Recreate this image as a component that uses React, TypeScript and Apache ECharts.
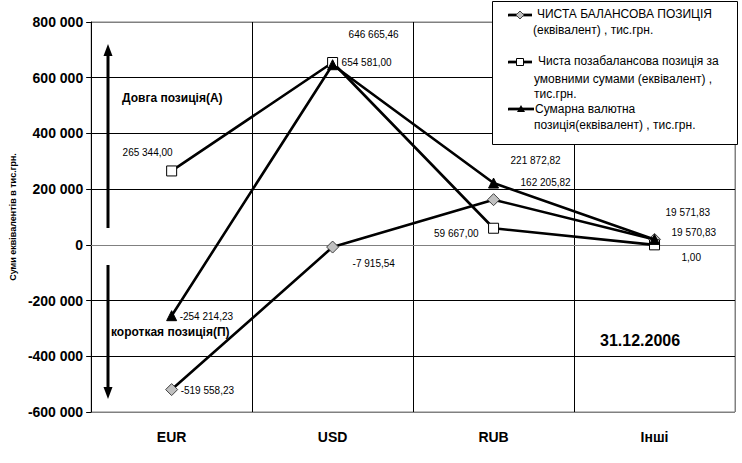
import React, { useEffect, useRef } from "react";
import * as echarts from "echarts";

const categories = ["EUR", "USD", "RUB", "Інші"];
const balanceValues = [-519558.23, -7915.54, 162205.82, 19570.83];
const offBalanceValues = [265344.0, 654581.0, 59667.0, 1.0];
const totalValues = [-254214.23, 646665.46, 221872.82, 19571.83];
const yTicks = { min: -600000, max: 800000, interval: 200000 };

const balanceLabelOffsets: [number, number, string][] = [
  [9, 1, "left"],
  [20, 16, "left"],
  [27, -17, "left"],
  [17, -7, "left"],
];
const offBalanceLabelOffsets: [number, number, string][] = [
  [1, -18, "right"],
  [9, 0, "left"],
  [-15, 5, "right"],
  [27, 13, "left"],
];
const totalLabelOffsets: [number, number, string][] = [
  [8, 1, "left"],
  [16, -30, "left"],
  [17, -23, "left"],
  [11, -27, "left"],
];

const FONT = '"Liberation Sans", Arial, sans-serif';

function fmtNum(v: number): string {
  const neg = v < 0;
  const abs = Math.abs(v);
  const fixed = abs.toFixed(2);
  const [ip, dp] = fixed.split(".");
  const withSp = ip.replace(/\B(?=(\d{3})+(?!\d))/g, " ");
  return (neg ? "-" : "") + withSp + "," + dp;
}

function fmtTick(v: number): string {
  const neg = v < 0;
  const s = Math.abs(v)
    .toFixed(0)
    .replace(/\B(?=(\d{3})+(?!\d))/g, " ");
  return (neg ? "-" : "") + s;
}

function buildData(values: number[], offsets: [number, number, string][]) {
  return values.map((v, i) => ({
    value: v,
    label: {
      show: true,
      position: "inside",
      offset: [offsets[i][0], offsets[i][1]],
      align: offsets[i][2],
      verticalAlign: "middle",
      formatter: () => fmtNum(v),
      color: "#000",
      fontSize: 10,
      fontFamily: FONT,
    },
  }));
}

export default function App() {
  const ref = useRef<HTMLDivElement>(null);
  useEffect(() => {
    if (!ref.current) return;
    const chart = echarts.init(ref.current, null, { renderer: "svg" });
    const lineStyle = { color: "#000", width: 2.6 };
    const option: any = {
      animation: false,
      backgroundColor: "#fff",
      grid: {
        left: 90,
        right: 7,
        top: 22,
        bottom: 51,
        show: true,
        borderColor: "#808080",
        borderWidth: 1,
      },
      xAxis: {
        type: "category",
        data: categories,
        boundaryGap: true,
        axisLine: { show: true, lineStyle: { color: "#808080", width: 1 } },
        axisTick: { show: false },
        splitLine: {
          show: true,
          lineStyle: { color: ["#000", "#000", "#000", "#000", "#808080"], width: 1 },
        },
        axisLabel: {
          color: "#000",
          fontSize: 14,
          fontWeight: "bold",
          fontFamily: FONT,
          margin: 18,
        },
      },
      yAxis: {
        type: "value",
        min: yTicks.min,
        max: yTicks.max,
        interval: yTicks.interval,
        name: "Суми еквівалентів в тис.грн.",
        nameLocation: "middle",
        nameGap: 70,
        nameRotate: 90,
        nameTextStyle: { color: "#000", fontSize: 9, fontWeight: "bold", fontFamily: FONT },
        axisLine: { show: true, lineStyle: { color: "#000", width: 1 } },
        axisTick: { show: true, length: 5, lineStyle: { color: "#000" } },
        splitLine: {
          show: true,
          lineStyle: {
            color: ["#808080", "#000", "#000", "#000", "#000", "#000", "#000", "#808080"],
            width: 1,
          },
        },
        axisLabel: {
          color: "#000",
          fontSize: 14,
          fontWeight: "bold",
          fontFamily: FONT,
          margin: 8,
          formatter: (v: number) => fmtTick(v),
        },
      },
      series: [
        {
          type: "line",
          name: "ЧИСТА БАЛАНСОВА ПОЗИЦІЯ (еквівалент) , тис.грн.",
          data: buildData(balanceValues, balanceLabelOffsets),
          symbol: "diamond",
          symbolSize: 12,
          showAllSymbol: true,
          lineStyle,
          itemStyle: { color: "#c0c0c0", borderColor: "#404040", borderWidth: 1 },
          z: 2,
        },
        {
          type: "line",
          name: "Чиста позабалансова позиція за умовними сумами (еквівалент) , тис.грн.",
          data: buildData(offBalanceValues, offBalanceLabelOffsets),
          symbol: "rect",
          symbolSize: 10,
          showAllSymbol: true,
          lineStyle,
          itemStyle: { color: "#fff", borderColor: "#000", borderWidth: 1 },
          z: 3,
        },
        {
          type: "line",
          name: "Сумарна валютна позиція(еквівалент) , тис.грн.",
          data: buildData(totalValues, totalLabelOffsets),
          symbol: "triangle",
          symbolSize: 10,
          showAllSymbol: true,
          lineStyle,
          itemStyle: { color: "#000", borderColor: "#000", borderWidth: 1 },
          z: 4,
        },
      ],
      graphic: {
        elements: [
          { type: "line", shape: { x1: 108, y1: 228, x2: 108, y2: 54 }, style: { stroke: "#000", lineWidth: 3 }, z: 10 },
          { type: "polygon", shape: { points: [[103.5, 56], [112.5, 56], [108, 44]] }, style: { fill: "#000" }, z: 10 },
          { type: "line", shape: { x1: 108, y1: 265, x2: 108, y2: 389 }, style: { stroke: "#000", lineWidth: 3 }, z: 10 },
          { type: "polygon", shape: { points: [[103.5, 387], [112.5, 387], [108, 399]] }, style: { fill: "#000" }, z: 10 },
          {
            type: "text", x: 122, y: 98, z: 10,
            style: { text: "Довга позиція(А)", fill: "#000", font: `bold 12px ${FONT}`, verticalAlign: "middle" },
          },
          {
            type: "text", x: 111, y: 332, z: 10,
            style: { text: "короткая позиція(П)", fill: "#000", font: `bold 12px ${FONT}`, verticalAlign: "middle" },
          },
          {
            type: "text", x: 600, y: 340, z: 10,
            style: { text: "31.12.2006", fill: "#000", font: `bold 16px ${FONT}`, verticalAlign: "middle" },
          },
          {
            type: "rect", shape: { x: 492.5, y: 1.5, width: 245, height: 143 },
            style: { fill: "#fff", stroke: "#000", lineWidth: 1 }, z: 20,
          },
          { type: "line", shape: { x1: 508, y1: 15, x2: 532, y2: 15 }, style: { stroke: "#000", lineWidth: 2.75 }, z: 21 },
          {
            type: "polygon", shape: { points: [[520, 11], [524, 15], [520, 19], [516, 15]] },
            style: { fill: "#c0c0c0", stroke: "#404040", lineWidth: 1 }, z: 22,
          },
          {
            type: "text", x: 537, y: 8, z: 22,
            style: { text: "ЧИСТА БАЛАНСОВА ПОЗИЦІЯ", fill: "#000", font: `12px ${FONT}`, verticalAlign: "top" },
          },
          {
            type: "text", x: 533, y: 24, z: 22,
            style: { text: "(еквівалент) , тис.грн.", fill: "#000", font: `12px ${FONT}`, verticalAlign: "top" },
          },
          { type: "line", shape: { x1: 508, y1: 62, x2: 532, y2: 62 }, style: { stroke: "#000", lineWidth: 2.75 }, z: 21 },
          {
            type: "rect", shape: { x: 516.5, y: 58.5, width: 7, height: 7 },
            style: { fill: "#fff", stroke: "#000", lineWidth: 1 }, z: 22,
          },
          {
            type: "text", x: 538, y: 55, z: 22,
            style: { text: "Чиста позабалансова позиція за", fill: "#000", font: `12px ${FONT}`, verticalAlign: "top" },
          },
          {
            type: "text", x: 534, y: 71, z: 22,
            style: { text: "умовними сумами (еквівалент) ,\nтис.грн.", fill: "#000", font: `12px ${FONT}`, lineHeight: 15.5, verticalAlign: "top" },
          },
          { type: "line", shape: { x1: 508, y1: 109, x2: 534, y2: 109 }, style: { stroke: "#000", lineWidth: 2.75 }, z: 21 },
          {
            type: "polygon", shape: { points: [[517, 112], [525, 112], [521, 105]] },
            style: { fill: "#000" }, z: 22,
          },
          {
            type: "text", x: 535, y: 102.5, z: 22,
            style: { text: "Сумарна валютна", fill: "#000", font: `12px ${FONT}`, verticalAlign: "top" },
          },
          {
            type: "text", x: 534, y: 118.5, z: 22,
            style: { text: "позиція(еквівалент) , тис.грн.", fill: "#000", font: `12px ${FONT}`, verticalAlign: "top" },
          },
        ],
      },
    };
    chart.setOption(option);
    return () => chart.dispose();
  }, []);
  return <div ref={ref} style={{ width: 742, height: 463, position: "absolute", left: 0, top: 0 }} />;
}
